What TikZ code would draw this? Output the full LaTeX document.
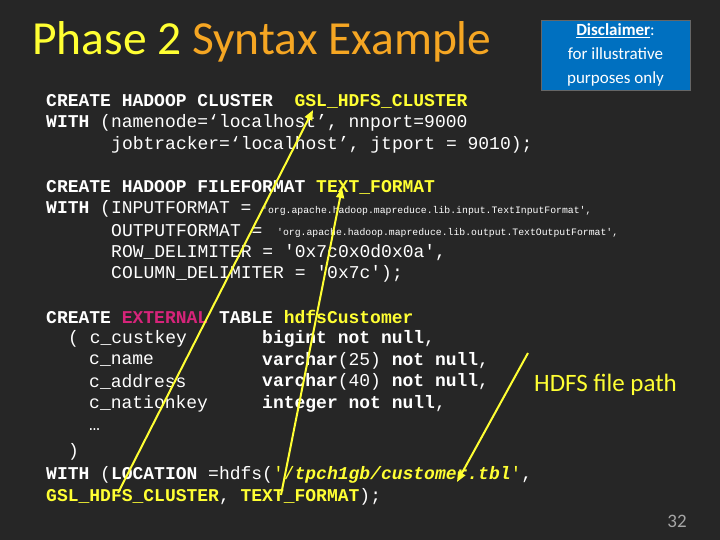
\documentclass[tikz,border=0pt]{standalone}
\usepackage{fontspec}
\setmonofont{Liberation Mono}
\newfontfamily\titlefont{Carlito}
\usetikzlibrary{arrows.meta}
\definecolor{bg}{HTML}{262626}
\definecolor{yel}{HTML}{FFFF33}
\definecolor{org}{HTML}{F5A623}
\definecolor{mag}{HTML}{D6247A}
\definecolor{dblue}{HTML}{0070C0}
\begin{document}
\begin{tikzpicture}[x=1pt,y=-1pt,
  code/.style={anchor=west,inner sep=0pt,text=white,font=\ttfamily\fontsize{18}{20}\selectfont},
  small/.style={anchor=west,inner sep=0pt,text=white,font=\ttfamily\fontsize{9.8}{10}\selectfont},
  arr/.style={yel,line width=2pt,-{Triangle[length=10pt,width=8pt]}}]
\fill[bg] (0,0) rectangle (720,540);
\useasboundingbox (0,0) rectangle (720,540);
\node[anchor=west,inner sep=0pt,font=\titlefont\fontsize{47.5}{50}\selectfont] (title) at (32,42) {\textcolor{yel}{Phase 2} \textcolor{org}{Syntax Example}};
\node[draw=black!60,fill=dblue,minimum width=149pt,minimum height=70pt,align=center,text=white,font=\titlefont\fontsize{17}{24}\selectfont] (disc) at (615.5,55) {\textbf{\underline{Disclaimer}}:\\for illustrative\\purposes only};
% cluster
\node[code] (l1) at (46,101) {\textbf{CREATE HADOOP CLUSTER} \ \textcolor{yel}{\textbf{GSL\_HDFS\_CLUSTER}}};
\node[code] (l2) at (46,123) {\textbf{WITH} (namenode=‘localhost’, nnport=9000};
\node[code] (l3) at (111,145) {jobtracker=‘localhost’, jtport = 9010);};
% fileformat
\node[code] (l4) at (46,187) {\textbf{CREATE HADOOP FILEFORMAT} \textcolor{yel}{\textbf{TEXT\_FORMAT}}};
\node[code] (l5) at (46,209) {\textbf{WITH} (INPUTFORMAT = };
\node[small] (l5b) at (262,211) {'org.apache.hadoop.mapreduce.lib.input.TextInputFormat',};
\node[code] (l6) at (111,231) {OUTPUTFORMAT = };
\node[small] (l6b) at (277,233) {'org.apache.hadoop.mapreduce.lib.output.TextOutputFormat',};
\node[code] (l7) at (111,253) {ROW\_DELIMITER = '0x7c0x0d0x0a',};
\node[code] (l8) at (111,274) {COLUMN\_DELIMITER = '0x7c');};
% table
\node[code] (t1) at (46,317) {\textbf{CREATE} \textcolor{mag}{\textbf{EXTERNAL}} \textbf{TABLE} \textcolor{yel}{\textbf{hdfsCustomer}}};
\node[code] (t2) at (68,339) {( c\_custkey};
\node[code] (t2b) at (262,339) {\textbf{bigint not null},};
\node[code] (t3) at (89,361) {c\_name};
\node[code] (t3b) at (262,361) {\textbf{varchar}(25) \textbf{not null},};
\node[code] (t4) at (89,382) {c\_address};
\node[code] (t4b) at (262,382) {\textbf{varchar}(40) \textbf{not null},};
\node[code] (t5) at (89,404) {c\_nationkey};
\node[code] (t5b) at (262,404) {\textbf{integer not null},};
\node[code] (t6) at (89,430) {…};
\node[code] (t7) at (68,452) {)};
\node[code] (t8) at (46,475) {\textbf{WITH} (\textbf{LOCATION} =hdfs(\textcolor{yel}{'/\textbf{\textit{tpch1gb/customer.tbl}}'},};
\node[code] (t9) at (46,497) {\textcolor{yel}{\textbf{GSL\_HDFS\_CLUSTER}}, \textcolor{yel}{\textbf{TEXT\_FORMAT}});};
\node[anchor=west,inner sep=0pt,text=yel,font=\titlefont\fontsize{25}{27}\selectfont] (hdfs) at (534,385) {HDFS file path};
\node[text=black!35,font=\titlefont\fontsize{19}{20}\selectfont] (num) at (677,521) {32};
% arrows
\coordinate (a1s) at (118,493); \coordinate (a1e) at (313,110);
\coordinate (a2s) at (281,495); \coordinate (a2e) at (342,188);
\coordinate (a3s) at (528,353); \coordinate (a3e) at (457,482);
\draw[arr] (a1s) -- (a1e);
\draw[arr] (a2s) -- (a2e);
\draw[arr] (a3s) -- (a3e);
\end{tikzpicture}
\end{document}
